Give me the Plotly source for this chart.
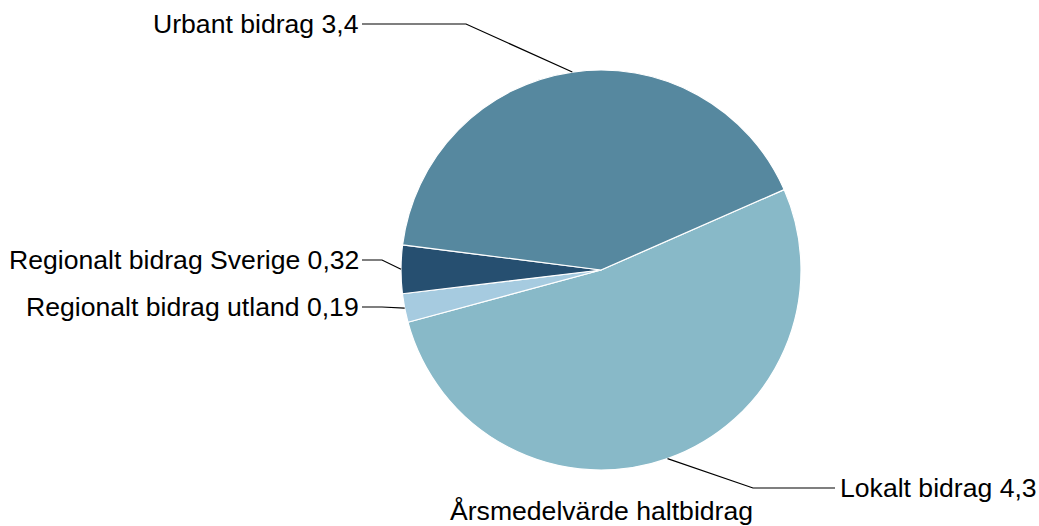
import math
import plotly.graph_objects as go

# Data
categories = ["Lokalt bidrag", "Regionalt bidrag utland", "Regionalt bidrag Sverige", "Urbant bidrag"]
values = [4.3, 0.19, 0.32, 3.4]
value_labels = ["4,3", "0,19", "0,32", "3,4"]
colors = ["#88b9c8", "#a6cbe0", "#264f70", "#56889f"]
title_text = "Årsmedelvärde haltbidrag"

W, H = 1039, 526
CX, CY, R = 601, 270, 200
ROTATION = 66.3
FONT_SIZE = 26.6

# label layout (pixels): elbow x, y, text x, side
label_layout = {
    "Lokalt bidrag": dict(elbow_x=753, y=488, text_x=835, side="right"),
    "Regionalt bidrag utland": dict(elbow_x=382, y=307, text_x=362, side="left"),
    "Regionalt bidrag Sverige": dict(elbow_x=382, y=260, text_x=362, side="left"),
    "Urbant bidrag": dict(elbow_x=466, y=24, text_x=362, side="left"),
}

def px(x):
    return x / W

def py(y):
    return 1 - y / H

fig = go.Figure(go.Pie(
    labels=categories,
    values=values,
    marker=dict(colors=colors, line=dict(color="white", width=1.2)),
    sort=False,
    direction="clockwise",
    rotation=ROTATION,
    textinfo="none",
    hoverinfo="label+value",
    showlegend=False,
    domain=dict(x=[px(CX - R), px(CX + R)], y=[py(CY + R), py(CY - R)]),
))

total = sum(values)
cum = 0.0
shapes = []
annotations = []
for cat, v, vl in zip(categories, values, value_labels):
    mid = ROTATION + (cum + v / 2) / total * 360.0
    cum += v
    a = math.radians(mid)
    ax = CX + R * math.sin(a)
    ay = CY - R * math.cos(a)
    L = label_layout[cat]
    ex, ey = L["elbow_x"], L["y"]
    tx = L["text_x"]
    path = f"M {px(ax)},{py(ay)} L {px(ex)},{py(ey)} L {px(tx)},{py(ey)}"
    shapes.append(dict(type="path", path=path, xref="paper", yref="paper",
                       line=dict(color="black", width=1.2)))
    if L["side"] == "left":
        annotations.append(dict(x=px(tx - 1), y=py(ey), xref="paper", yref="paper",
                                text=f"{cat} {vl}", showarrow=False, xanchor="right",
                                yanchor="middle", font=dict(size=FONT_SIZE, color="black")))
    else:
        annotations.append(dict(x=px(tx + 3), y=py(ey), xref="paper", yref="paper",
                                text=f"{cat} {vl}", showarrow=False, xanchor="left",
                                yanchor="middle", font=dict(size=FONT_SIZE, color="black")))

annotations.append(dict(x=px(CX), y=py(511), xref="paper", yref="paper", text=title_text,
                        showarrow=False, xanchor="center", yanchor="middle",
                        font=dict(size=FONT_SIZE, color="black")))

fig.update_layout(
    width=W, height=H, autosize=False,
    margin=dict(l=0, r=0, t=0, b=0),
    paper_bgcolor="white", plot_bgcolor="white",
    font=dict(family="Liberation Sans, Arial, sans-serif"),
    shapes=shapes, annotations=annotations,
)

fig.write_html("out.html", config={"displayModeBar": False},
               post_script="document.body.style.margin='0';document.body.style.overflow='hidden';")
